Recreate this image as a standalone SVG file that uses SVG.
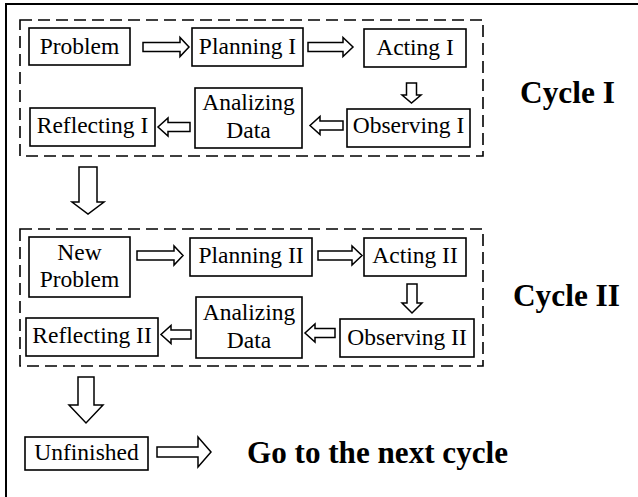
<svg xmlns="http://www.w3.org/2000/svg" width="638" height="497" viewBox="0 0 638 497">
<style>
.bg{fill:#fff}
.frame{fill:none;stroke:#000;stroke-width:2}
.cycle{fill:none;stroke:#000;stroke-width:1.6;stroke-dasharray:12 6}
.box{fill:#fff;stroke:#000;stroke-width:1.6}
.arr{fill:#fff;stroke:#000;stroke-width:1.5;stroke-linejoin:miter}
.t{font-family:"Liberation Serif","Times New Roman",serif;font-size:23.5px;fill:#000;text-anchor:middle}
.b{font-family:"Liberation Serif","Times New Roman",serif;font-size:31px;font-weight:bold;fill:#000}
</style>
<rect class="bg" x="0" y="0" width="638" height="497"/>
<rect class="frame" x="6" y="4" width="700" height="600"/>
<g id="cycle1-frame"><rect class="cycle" x="20" y="20" width="463" height="136"/></g>
<g id="cycle2-frame"><rect class="cycle" x="20" y="229" width="463" height="137"/></g>

<g id="connectors">
<polygon class="arr" points="143,42.5 180,42.5 180,37.5 189,47 180,56.5 180,51.5 143,51.5"/>
<polygon class="arr" points="308,42.5 343,42.5 343,37.5 353,47 343,56.5 343,51.5 308,51.5"/>
<polygon class="arr" points="406.5,83 416.5,83 416.5,95 421,95 411.5,103 402,95 406.5,95"/>
<polygon class="arr" points="343,121 320,121 320,116.5 310,125.5 320,134.5 320,130 343,130"/>
<polygon class="arr" points="190,122.5 168,122.5 168,118 158,127 168,136 168,131.5 190,131.5"/>
<polygon class="arr" points="79,167 97,167 97,202 104,202 88,214 72,202 79,202"/>
<polygon class="arr" points="137,251 174,251 174,246 183,255.5 174,265 174,260 137,260"/>
<polygon class="arr" points="318,251 352,251 352,246 362,255.5 352,265 352,260 318,260"/>
<polygon class="arr" points="407,284 417,284 417,303 422,303 412,313 402,303 407,303"/>
<polygon class="arr" points="335,328.5 315,328.5 315,324 305,333 315,342 315,337.5 335,337.5"/>
<polygon class="arr" points="191,330 171,330 171,325.5 161,334.5 171,343.5 171,339 191,339"/>
<polygon class="arr" points="78,377 94,377 94,405 103,405 86,423 69,405 78,405"/>
<polygon class="arr" points="157,447 198,447 198,437 211,452 198,467 198,457 157,457"/>
</g>

<g id="problem"><rect class="box" x="29" y="28" width="101" height="37"/><text class="t" x="79.5" y="54">Problem</text></g>
<g id="planning1"><rect class="box" x="192" y="28" width="111" height="38"/><text class="t" x="247.5" y="54">Planning I</text></g>
<g id="acting1"><rect class="box" x="364" y="29" width="102" height="38"/><text class="t" x="415" y="55">Acting I</text></g>
<g id="observing1"><rect class="box" x="347" y="109" width="123" height="38"/><text class="t" x="408.5" y="133">Observing I</text></g>
<g id="analizing1"><rect class="box" x="195" y="88" width="107" height="60"/><text class="t" x="248.5" y="110">Analizing</text><text class="t" x="248.5" y="138">Data</text></g>
<g id="reflecting1"><rect class="box" x="30" y="108" width="125" height="38"/><text class="t" x="92.5" y="133">Reflecting I</text></g>

<g id="newproblem"><rect class="box" x="29" y="237" width="101" height="60"/><text class="t" x="79.5" y="260">New</text><text class="t" x="79.5" y="287">Problem</text></g>
<g id="planning2"><rect class="box" x="190" y="238" width="122" height="38"/><text class="t" x="251" y="263">Planning II</text></g>
<g id="acting2"><rect class="box" x="364" y="238" width="102" height="38"/><text class="t" x="415" y="263">Acting II</text></g>
<g id="observing2"><rect class="box" x="340" y="319" width="134" height="38"/><text class="t" x="407" y="345">Observing II</text></g>
<g id="analizing2"><rect class="box" x="196" y="297" width="106" height="61"/><text class="t" x="249" y="320">Analizing</text><text class="t" x="249" y="348">Data</text></g>
<g id="reflecting2"><rect class="box" x="26" y="318" width="132" height="38"/><text class="t" x="92" y="343">Reflecting II</text></g>

<g id="unfinished"><rect class="box" x="25" y="437" width="123" height="33"/><text class="t" x="86.5" y="460">Unfinished</text></g>

<g id="labels">
<text class="b" x="520" y="103" textLength="95" lengthAdjust="spacingAndGlyphs">Cycle I</text>
<text class="b" x="513" y="306" textLength="107" lengthAdjust="spacingAndGlyphs">Cycle II</text>
<text class="b" x="247" y="463" textLength="261" lengthAdjust="spacingAndGlyphs">Go to the next cycle</text>
</g>
</svg>
